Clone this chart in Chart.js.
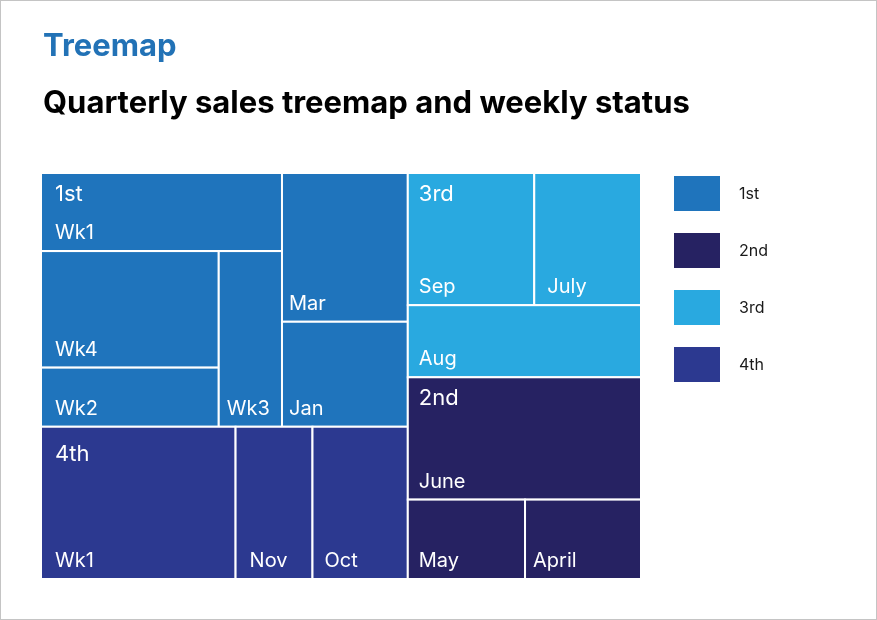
<!DOCTYPE html>
<html>
<head>
<meta charset="utf-8">
<script src="https://cdn.jsdelivr.net/npm/chart.js@4.4.1/dist/chart.umd.min.js"></script>
<style>
  html, body { margin: 0; padding: 0; background: #fff; }
  #wrap { width: 877px; height: 620px; }
</style>
</head>
<body>
<div id="wrap"><canvas id="myChart" width="877" height="620"></canvas></div>
<script>
"use strict";

// quarters, in legend order
var quarterNames = ["1st", "2nd", "3rd", "4th"];
var quarterColors = ["#1f74bc", "#262262", "#29a9e0", "#2c3990"];

// leaves of each quarter (months, weeks for the month that is split)
var q1Labels = ["Wk1", "Wk4", "Wk2", "Wk3", "Mar", "Jan"];
var q1Values = [188, 207, 105, 111, 187, 132];
var q2Labels = ["June", "May", "April"];
var q2Values = [285, 93, 92];
var q3Labels = ["Sep", "July", "Aug"];
var q3Values = [167, 141, 168];
var q4Labels = ["Wk1", "Nov", "Oct"];
var q4Values = [296, 117, 145];

// how each block is cut: "h" = side by side, "v" = stacked, numbers = index of the item
var quarterSplit = ["h", ["v", 0, 3], ["v", 2, 1]];
var q1Split = ["h", ["v", 0, ["h", ["v", 1, 2], 3]], ["v", 4, 5]];
var q2Split = ["v", 0, ["h", 1, 2]];
var q3Split = ["v", ["h", 0, 1], 2];
var q4Split = ["h", 0, 1, 2];

// label insets (px) from the left edge of each cell
var q1Inset = [14, 14, 14, 8, 7, 7];
var q2Inset = [11, 11, 8];
var q3Inset = [11, 13, 11];
var q4Inset = [14, 14, 12];
var groupInset = [14, 11, 11, 14];
var groupBaseline = [28, 28, 28, 34];

var leafLabels = [q1Labels, q2Labels, q3Labels, q4Labels];
var leafValues = [q1Values, q2Values, q3Values, q4Values];
var leafSplits = [q1Split, q2Split, q3Split, q4Split];
var leafInsets = [q1Inset, q2Inset, q3Inset, q4Inset];

function sumOf(arr) {
    return arr.reduce(function (s, v) { return s + v; }, 0);
}
var quarterTotals = leafValues.map(sumOf);

function nodeTotal(node, values) {
    if (typeof node === "number") return values[node];
    var s = 0;
    for (var k = 1; k < node.length; k++) s += nodeTotal(node[k], values);
    return s;
}

// cut a box (in value space 0..1) following the split tree, sizes from the values
function cut(node, values, box, out) {
    if (typeof node === "number") {
        out.push({ index: node, box: box });
        return;
    }
    var total = nodeTotal(node, values);
    var horiz = node[0] === "h";
    var start = horiz ? box.x0 : box.y0;
    var span = horiz ? box.x1 - box.x0 : box.y1 - box.y0;
    for (var k = 1; k < node.length; k++) {
        var size = span * nodeTotal(node[k], values) / total;
        var b = horiz
            ? { x0: start, x1: start + size, y0: box.y0, y1: box.y1 }
            : { x0: box.x0, x1: box.x1, y0: start, y1: start + size };
        cut(node[k], values, b, out);
        start += size;
    }
}

var treemapPlugin = {
    id: "treemapCells",
    beforeDraw: function (chart) {
        var c = chart.ctx;
        c.save();
        c.fillStyle = "#fff";
        c.fillRect(0, 0, chart.width, chart.height);
        c.strokeStyle = "#c4c4c4";
        c.lineWidth = 1;
        c.strokeRect(0.5, 0.5, chart.width - 1, chart.height - 1);
        c.textBaseline = "alphabetic";
        c.fillStyle = "#2272b6";
        c.font = "bold 31px Inter";
        c.fillText("Treemap", 43, 56);
        c.fillStyle = "#000";
        c.font = "bold 31px Inter";
        c.fillText("Quarterly sales treemap and weekly status", 43, 113);
        c.restore();
    },
    afterDatasetsDraw: function (chart) {
        var c = chart.ctx;
        var xs = chart.scales.x, ys = chart.scales.y;
        var groups = [];
        cut(quarterSplit, quarterTotals, { x0: 0, x1: 1, y0: 0, y1: 1 }, groups);

        function toPx(b) {
            var x0 = xs.getPixelForValue(b.x0), x1 = xs.getPixelForValue(b.x1);
            var y0 = ys.getPixelForValue(b.y0), y1 = ys.getPixelForValue(b.y1);
            return { x: Math.min(x0, x1), y: Math.min(y0, y1), w: Math.abs(x1 - x0), h: Math.abs(y1 - y0) };
        }

        c.save();
        c.textBaseline = "alphabetic";
        groups.forEach(function (g) {
            var q = g.index;
            var ds = chart.data.datasets[q];
            var leaves = [];
            cut(leafSplits[q], leafValues[q], g.box, leaves);
            leaves.forEach(function (leaf) {
                var r = toPx(leaf.box);
                c.fillStyle = ds.backgroundColor;
                c.fillRect(r.x, r.y, r.w, r.h);
                c.strokeStyle = "#fff";
                c.lineWidth = 2;
                c.strokeRect(r.x, r.y, r.w, r.h);
                c.fillStyle = "#fff";
                c.font = "20px Inter";
                c.fillText(leafLabels[q][leaf.index], r.x + leafInsets[q][leaf.index], r.y + r.h - 12);
            });
        });
        groups.forEach(function (g) {
            var r = toPx(g.box);
            c.fillStyle = "#fff";
            c.font = "22px Inter";
            c.fillText(quarterNames[g.index], r.x + groupInset[g.index], r.y + groupBaseline[g.index]);
        });

        // legend
        var area = chart.chartArea;
        chart.data.datasets.forEach(function (ds, i) {
            var lx = area.right + 33, ly = area.top + 3 + i * 57;
            c.fillStyle = ds.backgroundColor;
            c.fillRect(lx, ly, 46, 35);
            c.fillStyle = "#1a1a1a";
            c.font = "16px Inter";
            c.textBaseline = "middle";
            c.fillText(ds.label, lx + 65, ly + 18);
            c.textBaseline = "alphabetic";
        });
        c.restore();
    }
};

var ctx = document.getElementById("myChart");
var myChart = new Chart(ctx, {
    type: 'scatter',
    data: {
        datasets: quarterNames.map(function (name, i) {
            return { label: name, data: [], backgroundColor: quarterColors[i], pointRadius: 0 };
        })
    },
    options: {
        responsive: false,
        animation: false,
        layout: { padding: { left: 41, right: 236, top: 173, bottom: 41 } },
        scales: {
            x: { type: 'linear', min: 0, max: 1, display: false },
            y: { type: 'linear', min: 0, max: 1, reverse: true, display: false }
        },
        plugins: {
            legend: { display: false },
            tooltip: { enabled: false }
        }
    },
    plugins: [treemapPlugin]
});
</script>
</body>
</html>
